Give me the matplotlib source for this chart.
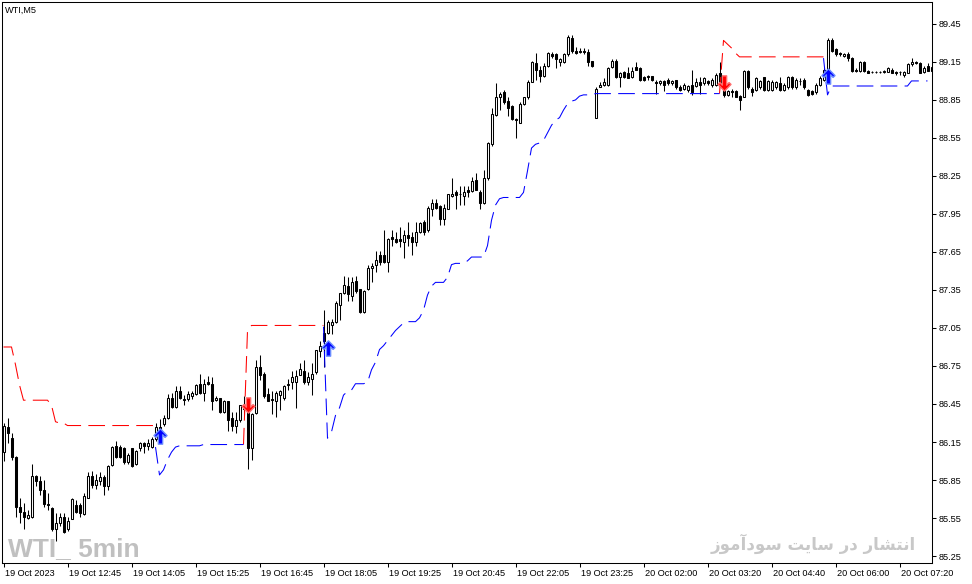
import numpy as np
import matplotlib
matplotlib.use("Agg")
import matplotlib.pyplot as plt
from matplotlib.path import Path
from matplotlib.transforms import ScaledTranslation
from matplotlib import font_manager

# ---------------- data (WTI, M5) ----------------
opens = [
86.07,86.27,86.18,86.03,85.64,85.60,85.55,85.56,85.88,85.84,85.77,85.66,85.63,85.46,85.51,85.56,
85.46,85.54,85.65,85.65,85.58,85.71,85.88,85.81,85.84,85.87,85.80,85.97,86.12,86.11,86.10,85.99,
86.10,85.98,86.10,86.14,86.12,86.11,86.17,86.27,86.29,86.34,86.50,86.43,86.55,86.49,86.49,86.51,
86.53,86.61,86.54,86.62,86.61,86.48,86.50,86.39,86.47,86.34,86.28,86.32,86.44,86.43,86.10,86.38,
86.74,86.69,86.53,86.49,86.47,86.52,86.50,86.60,86.62,86.62,86.68,86.71,86.62,86.65,86.70,86.87,
87.01,87.01,87.07,87.10,87.23,87.33,87.38,87.30,87.42,87.36,87.18,87.36,87.52,87.55,87.63,87.63,
87.57,87.77,87.75,87.75,87.73,87.78,87.77,87.73,87.81,87.89,87.82,87.99,88.04,88.01,87.91,87.99,
88.09,88.12,88.11,88.09,88.14,88.13,88.22,88.12,88.04,88.23,88.50,88.73,88.87,88.91,88.84,88.80,
88.70,88.67,88.82,88.87,88.99,89.14,89.09,89.04,89.12,89.21,89.21,89.15,89.15,89.21,89.34,89.24,
89.24,89.24,89.23,89.16,88.71,88.95,88.97,88.97,89.11,89.16,89.03,89.07,89.06,89.03,89.11,89.10,
89.03,89.04,89.04,88.99,88.98,89.00,89.01,88.98,89.01,88.95,88.94,88.93,88.97,88.96,88.99,88.98,
89.00,88.97,88.97,89.06,88.93,88.89,88.92,88.92,88.88,88.87,89.08,88.94,88.93,88.95,89.03,88.93,
88.93,88.95,88.98,88.93,88.95,89.03,88.95,89.00,89.01,88.93,88.92,88.91,88.97,89.01,89.06,89.32,
89.25,89.22,89.20,89.21,89.18,89.09,89.08,89.15,89.08,89.07,89.07,89.07,89.07,89.07,89.09,89.07,
89.07,89.05,89.06,89.13,89.15,89.14,89.07,89.12,89.08]
highs = [
86.30,86.34,86.22,86.04,85.71,85.67,85.61,85.98,85.89,85.88,85.85,85.75,85.64,85.59,85.59,85.59,
85.56,85.71,85.69,85.67,85.75,85.91,85.92,85.90,85.91,85.89,85.97,86.12,86.16,86.13,86.11,86.06,
86.10,86.09,86.15,86.15,86.17,86.19,86.30,86.33,86.36,86.53,86.54,86.59,86.59,86.52,86.55,86.55,
86.61,86.69,86.65,86.67,86.66,86.51,86.50,86.48,86.47,86.39,86.39,86.44,86.51,86.48,86.38,86.80,
86.84,86.70,86.58,86.55,86.55,86.56,86.60,86.65,86.71,86.72,86.77,86.80,86.70,86.77,86.88,86.95,
87.19,87.11,87.12,87.26,87.33,87.46,87.45,87.45,87.46,87.36,87.35,87.55,87.56,87.66,87.66,87.82,
87.76,87.82,87.81,87.85,87.82,87.89,87.81,87.89,87.89,87.90,88.01,88.07,88.07,88.02,88.03,88.11,
88.23,88.14,88.17,88.17,88.17,88.24,88.27,88.14,88.30,88.52,88.79,88.98,88.91,88.93,88.87,88.81,
88.71,88.83,88.87,89.01,89.16,89.22,89.12,89.14,89.23,89.23,89.22,89.18,89.22,89.36,89.36,89.27,
89.26,89.26,89.25,89.16,88.95,88.99,89.02,89.11,89.17,89.17,89.07,89.08,89.11,89.11,89.15,89.11,
89.04,89.05,89.04,89.01,89.01,89.01,89.02,89.01,89.01,88.97,88.98,88.97,89.09,89.02,89.03,89.03,
89.01,89.02,89.06,89.15,88.95,88.93,88.94,88.93,88.89,89.09,89.09,88.95,89.03,89.01,89.03,89.01,
89.01,89.00,89.03,88.98,89.04,89.04,89.02,89.02,89.02,88.94,88.93,88.98,89.04,89.10,89.34,89.34,
89.26,89.23,89.22,89.23,89.19,89.10,89.16,89.16,89.09,89.08,89.08,89.08,89.09,89.11,89.10,89.08,
89.08,89.08,89.14,89.18,89.16,89.15,89.12,89.14,89.12]
lows = [
86.00,86.14,86.01,85.56,85.51,85.46,85.54,85.55,85.80,85.73,85.64,85.61,85.45,85.37,85.49,85.43,
85.45,85.54,85.59,85.56,85.57,85.71,85.79,85.78,85.81,85.73,85.77,85.96,86.02,86.02,85.98,85.98,
85.95,85.97,86.08,86.06,86.09,86.10,86.16,86.21,86.28,86.33,86.42,86.42,86.49,86.44,86.47,86.49,
86.52,86.53,86.47,86.60,86.40,86.47,86.38,86.38,86.24,86.24,86.22,86.31,86.36,85.94,86.01,86.37,
86.64,86.50,86.47,86.37,86.35,86.40,86.48,86.56,86.57,86.42,86.68,86.61,86.60,86.52,86.69,86.82,
86.74,87.00,87.00,87.09,87.11,87.32,87.26,87.26,87.33,87.17,87.17,87.35,87.41,87.49,87.55,87.56,
87.49,87.70,87.72,87.69,87.60,87.70,87.63,87.70,87.80,87.78,87.81,87.93,87.99,87.86,87.86,87.99,
88.08,87.99,88.02,88.02,88.08,88.12,88.14,87.99,88.03,88.22,88.49,88.72,88.77,88.82,88.72,88.69,
88.55,88.67,88.81,88.86,88.99,89.01,88.99,89.03,89.11,89.18,89.10,89.12,89.14,89.20,89.22,89.21,
89.22,89.21,89.12,89.11,88.71,88.95,88.96,88.96,89.10,89.02,88.95,89.02,89.02,89.02,89.09,89.00,
89.00,89.01,89.00,88.90,88.97,88.92,88.97,88.97,88.94,88.92,88.93,88.91,88.89,88.95,88.90,88.97,
88.97,88.95,88.96,88.95,88.87,88.88,88.87,88.87,88.77,88.87,88.94,88.88,88.92,88.94,88.92,88.92,
88.92,88.94,88.92,88.92,88.94,88.94,88.94,88.97,88.94,88.88,88.89,88.90,88.96,89.00,89.05,89.23,
89.20,89.20,89.19,89.16,89.07,89.07,89.07,89.07,89.06,89.06,89.06,89.06,89.06,89.07,89.06,89.05,
89.05,89.03,89.06,89.12,89.13,89.06,89.06,89.08,89.08]
closes = [
86.28,86.22,86.03,85.64,85.60,85.56,85.57,85.88,85.84,85.77,85.66,85.65,85.46,85.51,85.56,85.44,
85.53,85.70,85.60,85.59,85.72,85.88,85.81,85.85,85.87,85.80,85.96,86.11,86.03,86.03,85.99,86.05,
85.96,86.08,86.14,86.12,86.14,86.17,86.27,86.24,86.34,86.50,86.43,86.55,86.50,86.48,86.53,86.54,
86.60,86.54,86.61,86.61,86.47,86.50,86.39,86.47,86.32,86.28,86.32,86.44,86.41,86.10,86.37,86.74,
86.68,86.51,86.47,86.48,86.54,86.55,86.59,86.61,86.66,86.67,86.73,86.62,86.66,86.69,86.88,86.91,
86.95,87.10,87.10,87.25,87.33,87.39,87.32,87.41,87.34,87.18,87.34,87.52,87.54,87.59,87.57,87.57,
87.75,87.75,87.73,87.74,87.78,87.76,87.73,87.81,87.88,87.81,88.00,88.04,88.00,87.91,88.00,88.11,
88.11,88.10,88.11,88.12,88.12,88.21,88.14,88.04,88.23,88.51,88.74,88.87,88.90,88.83,88.79,88.70,
88.69,88.82,88.87,88.99,89.15,89.09,89.04,89.12,89.22,89.20,89.17,89.17,89.21,89.35,89.24,89.22,
89.23,89.23,89.15,89.12,88.94,88.97,88.99,89.10,89.16,89.03,89.06,89.03,89.02,89.08,89.09,89.01,
89.01,89.03,89.01,88.98,89.00,88.97,88.98,89.00,88.95,88.93,88.97,88.96,88.91,88.99,88.97,89.02,
88.98,89.01,89.05,88.96,88.89,88.92,88.91,88.87,88.85,89.08,88.95,88.91,89.02,89.00,88.93,89.00,
88.99,88.99,88.93,88.97,89.03,88.95,89.01,89.00,88.95,88.89,88.90,88.97,89.02,89.09,89.32,89.24,
89.21,89.21,89.21,89.18,89.08,89.08,89.15,89.08,89.06,89.07,89.07,89.07,89.08,89.10,89.06,89.06,
89.07,89.07,89.13,89.15,89.14,89.06,89.10,89.08,89.11]

# indicator stop lines: (first bar index, values per bar)
red_segments = [
    (0, [86.90, 86.90, 86.90, 86.76, 86.60, 86.48, 86.48, 86.48, 86.48, 86.48, 86.48, 86.48,
         86.44, 86.31, 86.30, 86.30] + [86.28] * 23),
    (60, [86.13, 87.03] + [87.07] * 19),
    (179, [88.90, 89.32, 89.29, 89.26, 89.22] + [89.19] * 22),
]
blue_segments = [
    (38, [86.11, 85.89, 85.93, 86.01, 86.07, 86.11] + [86.12] * 6 + [86.13] * 11),
    (80, [87.06, 86.18, 86.23, 86.36, 86.42, 86.52, 86.55, 86.56, 86.61, 86.61, 86.61, 86.62,
          86.72, 86.78, 86.88, 86.91, 86.95, 86.99, 87.03, 87.06, 87.09, 87.10, 87.10, 87.10,
          87.13, 87.19, 87.31, 87.38, 87.41, 87.41, 87.41, 87.45, 87.55, 87.56, 87.56, 87.56,
          87.58, 87.61, 87.61, 87.61, 87.61, 87.70, 87.90, 88.02, 88.07, 88.08, 88.08, 88.08,
          88.08, 88.08, 88.12, 88.29, 88.47, 88.50, 88.51, 88.53, 88.59, 88.65, 88.69, 88.71,
          88.77, 88.82, 88.84, 88.85, 88.88, 88.89, 88.89, 88.89] + [88.90] * 32),
    (205, [89.18, 88.89] + [88.96] * 20 + [89.00] * 5),
]
buy_bars = [39, 81, 206]
buy_prices = [86.20, 86.89, 89.04]
sell_bars = [61, 180]
sell_prices = [86.44, 88.98]

date_tick_bars = list(range(0, 225, 16))
date_tick_labels = ["19 Oct 2023", "19 Oct 12:45", "19 Oct 14:05", "19 Oct 15:25", "19 Oct 16:45",
                    "19 Oct 18:05", "19 Oct 19:25", "19 Oct 20:45", "19 Oct 22:05", "19 Oct 23:25",
                    "20 Oct 02:00", "20 Oct 03:20", "20 Oct 04:40", "20 Oct 06:00", "20 Oct 07:20"]
price_ticks = [85.25, 85.55, 85.85, 86.15, 86.45, 86.75, 87.05, 87.35, 87.65, 87.95,
               88.25, 88.55, 88.85, 89.15, 89.45]

symbol_label = "WTI,M5"
watermark_left = "WTI_ 5min"
# "انتشار در سایت سودآموز" written with Arabic presentation forms in visual order
watermark_right = "".join(reversed(
    "\uFE8D\uFEE7\uFE98\uFEB8\uFE8E\uFEAD \uFEA9\uFEAD \uFEB3\uFE8E\uFEF3\uFE96 "
    "\uFEB3\uFEEE\uFEA9\uFE81\uFEE3\uFEEE\uFEAF"))

# ---------------- figure ----------------
W, H = 972, 584
fig = plt.figure(figsize=(W / 100, H / 100), dpi=100, facecolor="white")
ax = fig.add_axes([2 / W, 21 / H, 930 / W, 561 / H])
ax.set_facecolor("white")

names = {f.name for f in font_manager.fontManager.ttflist}
tick_font = "Liberation Sans" if "Liberation Sans" in names else "DejaVu Sans"
narrow_font = "Liberation Sans Narrow" if "Liberation Sans Narrow" in names else None

o = np.array(opens); h = np.array(highs); l = np.array(lows); c = np.array(closes)
x = np.arange(len(o))

ax.vlines(x, l, h, color="black", lw=0.75, zorder=3)
bull = c >= o
ax.bar(x[bull], (c - o)[bull], bottom=o[bull], width=0.5, facecolor="white",
       edgecolor="black", lw=0.75, zorder=4)
ax.bar(x[~bull], (o - c)[~bull], bottom=c[~bull], width=0.5, facecolor="black",
       edgecolor="black", lw=0.75, zorder=4)

for start, vals in red_segments:
    xs = np.arange(start, start + len(vals))
    ax.plot(xs, vals, color="#ff0000", lw=0.75, dashes=(16, 7), zorder=5)
for start, vals in blue_segments:
    xs = np.arange(start, start + len(vals))
    ax.plot(xs, vals, color="#0000ff", lw=0.75, dashes=(16, 7), zorder=5)

up = [(0, 1), (0.85, 0.12), (0.6, -0.12), (0.28, 0.22), (0.28, -1), (-0.28, -1),
      (-0.28, 0.22), (-0.6, -0.12), (-0.85, 0.12), (0, 1)]
up_path = Path(up, [Path.MOVETO] + [Path.LINETO] * (len(up) - 2) + [Path.CLOSEPOLY])
dn_path = Path([(px, -py) for px, py in up], up_path.codes)
ax.plot(buy_bars, buy_prices, linestyle="none", marker=up_path, markersize=11,
        markerfacecolor="#0000ff", markeredgecolor="#6a8cff", markeredgewidth=1.0, zorder=6)
ax.plot(sell_bars, sell_prices, linestyle="none", marker=dn_path, markersize=11,
        markerfacecolor="#ff0000", markeredgecolor="#ff7070", markeredgewidth=1.0, zorder=6)

ax.set_xlim(-0.375, 232.125)
ax.set_ylim(85.195, 89.623)

for s in ax.spines.values():
    s.set_color("black")
    s.set_linewidth(0.75)

ax.yaxis.tick_right()
ax.set_yticks(price_ticks)
ax.set_yticklabels([f"{p:.2f}" for p in price_ticks], fontsize=6.6, family=tick_font)
ax.set_xticks(date_tick_bars)
ax.set_xticklabels(date_tick_labels, fontsize=6.6, family=tick_font, ha="left")
ax.tick_params(axis="both", direction="out", length=3, width=0.75, color="black",
               labelcolor="black")
ax.tick_params(axis="y", pad=1.5)
ax.tick_params(axis="x", pad=1.5)
off = ScaledTranslation(1.5 / 100, 0, fig.dpi_scale_trans)
for lab in ax.get_xticklabels():
    lab.set_transform(lab.get_transform() + off)

ax.text(5 / W, 1 - 10.5 / H, symbol_label, transform=fig.transFigure, fontsize=6.6,
        family=tick_font, ha="left", va="center", color="black", zorder=7)

if narrow_font:
    ax.text(8 / W, 1 - 556 / H, watermark_left, transform=fig.transFigure, fontsize=22,
            family=narrow_font, weight="bold", color="#c0c0c0", ha="left", va="baseline",
            zorder=1)
else:
    ax.text(8 / W, 1 - 556 / H, watermark_left, transform=fig.transFigure, fontsize=19,
            family="Liberation Sans", weight="bold", color="#c0c0c0", ha="left",
            va="baseline", zorder=1)
ax.text(916 / W, 1 - 550 / H, watermark_right, transform=fig.transFigure, fontsize=12,
        family=["DejaVu Sans"], weight="bold", color="#c8c8c8", ha="right", va="baseline",
        zorder=1)

fig.savefig("out.png", dpi=100, facecolor="white")
